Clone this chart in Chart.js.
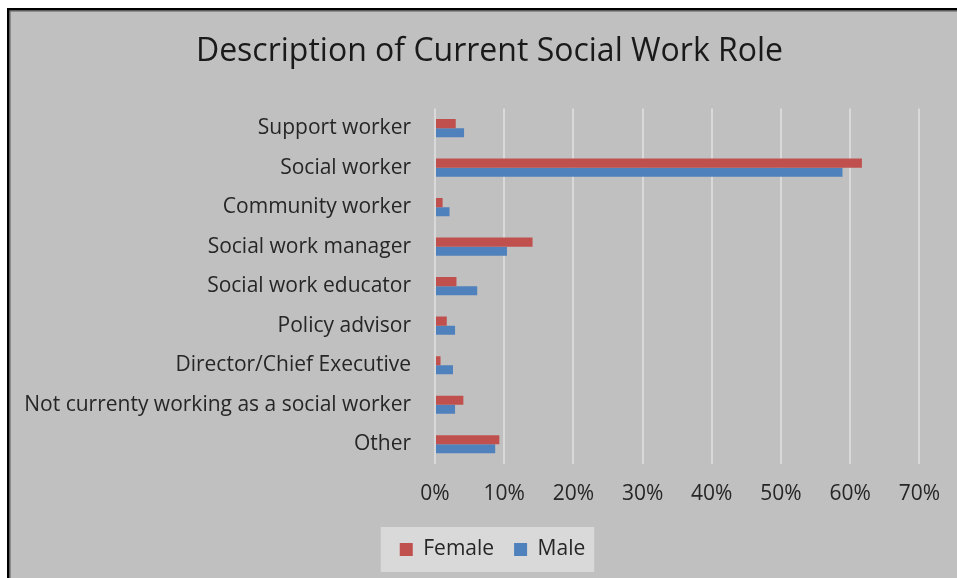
<!DOCTYPE html>
<html>
<head>
<meta charset="utf-8">
<script src="https://cdn.jsdelivr.net/npm/chart.js@4.4.1/dist/chart.umd.min.js"></script>
<style>
  html, body { margin: 0; padding: 0; background: #ffffff; }
  #wrap { width: 957px; height: 578px; position: relative; }
</style>
</head>
<body>
<div id="wrap"><canvas id="c" width="957" height="578"></canvas></div>
<script>
// Roles surveyed, top to bottom
const roles = [
  'Support worker',
  'Social worker',
  'Community worker',
  'Social work manager',
  'Social work educator',
  'Policy advisor',
  'Director/Chief Executive',
  'Not currenty working as a social worker',
  'Other'
];

// Share of respondents in each role (%)
const female = [3.0, 61.7, 1.1, 14.1, 3.1, 1.7, 0.8, 4.1, 9.3];
const male   = [4.2, 58.9, 2.1, 10.4, 6.1, 2.9, 2.6, 2.9, 8.7];

// Axis ticks (%)
const xTicks = [0, 10, 20, 30, 40, 50, 60, 70];

const FONT = "'Open Sans', 'DejaVu Sans', sans-serif";
const TEXT = '#262626';

// Paints the grey panel, its frame and the legend backing box;
// also nudges the title and legend so they centre on the whole panel
const panel = {
  id: 'panel',
  afterLayout(chart) {
    const t = chart.titleBlock;
    if (t) { t.left += 23.5; t.right += 23.5; }
    const l = chart.legend;
    if (l) { l.left += 26.5; l.right += 26.5; }
  },
  beforeDraw(chart) {
    const ctx = chart.ctx;
    const W = chart.width, H = chart.height;
    ctx.save();
    ctx.fillStyle = '#ffffff';
    ctx.fillRect(0, 0, W, H);
    ctx.fillStyle = '#c0c0c0';
    ctx.fillRect(9, 10, W - 9, H - 10);
    ctx.fillStyle = '#000000';
    ctx.fillRect(7, 8, W - 7, 2.5);
    ctx.fillRect(7, 8, 2.5, H - 8);
    ctx.fillStyle = '#5a5a5a';
    ctx.fillRect(9.5, 10.5, W - 9.5, 1);
    ctx.fillRect(9.5, 10.5, 1, H - 10.5);

    const boxes = chart.legend && chart.legend.legendHitBoxes;
    if (boxes && boxes.length) {
      let l = Infinity, r = -Infinity, t = Infinity, b = -Infinity;
      boxes.forEach(h => {
        l = Math.min(l, h.left); r = Math.max(r, h.left + h.width);
        t = Math.min(t, h.top); b = Math.max(b, h.top + h.height);
      });
      ctx.fillStyle = '#d9d9d9';
      ctx.fillRect(l - 19, (t + b) / 2 - 22.5, (r - l) + 28, 45);
    }
    ctx.restore();
  }
};

new Chart(document.getElementById('c'), {
  type: 'bar',
  data: {
    labels: roles,
    datasets: [
      { label: 'Female', data: female, backgroundColor: '#c0504d', borderWidth: 0 },
      { label: 'Male',   data: male,   backgroundColor: '#4f81bd', borderWidth: 0 }
    ]
  },
  options: {
    indexAxis: 'y',
    responsive: false,
    animation: false,
    devicePixelRatio: 1,
    layout: { padding: { left: 12, right: 37, top: 10, bottom: 8 } },
    datasets: { bar: { categoryPercentage: 0.46, barPercentage: 1.0 } },
    scales: {
      x: {
        min: 0,
        max: 70,
        afterBuildTicks(scale) { scale.ticks = xTicks.map(v => ({ value: v })); },
        grid: { color: '#d9d9d9', lineWidth: 2, drawTicks: false },
        border: { display: false },
        ticks: {
          padding: 17,
          color: TEXT,
          font: { family: FONT, size: 21 },
          callback: v => v + '%'
        },
        afterFit(scale) { scale.height = 55; }
      },
      y: {
        grid: { display: false, drawTicks: false },
        border: { display: false },
        ticks: {
          padding: 24,
          color: TEXT,
          font: { family: FONT, size: 21 },
          autoSkip: false
        },
        afterFit(scale) { scale.width = 435 - 12; }
      }
    },
    plugins: {
      title: {
        display: true,
        text: 'Description of Current Social Work Role',
        color: '#1a1a1a',
        font: { family: FONT, size: 32, weight: 'normal' },
        padding: { top: 23, bottom: 37 }
      },
      legend: {
        position: 'bottom',
        labels: {
          color: TEXT,
          font: { family: FONT, size: 21 },
          boxWidth: 13,
          boxHeight: 13,
          padding: 20
        }
      },
      tooltip: { enabled: false }
    }
  },
  plugins: [panel]
});
</script>
</body>
</html>
